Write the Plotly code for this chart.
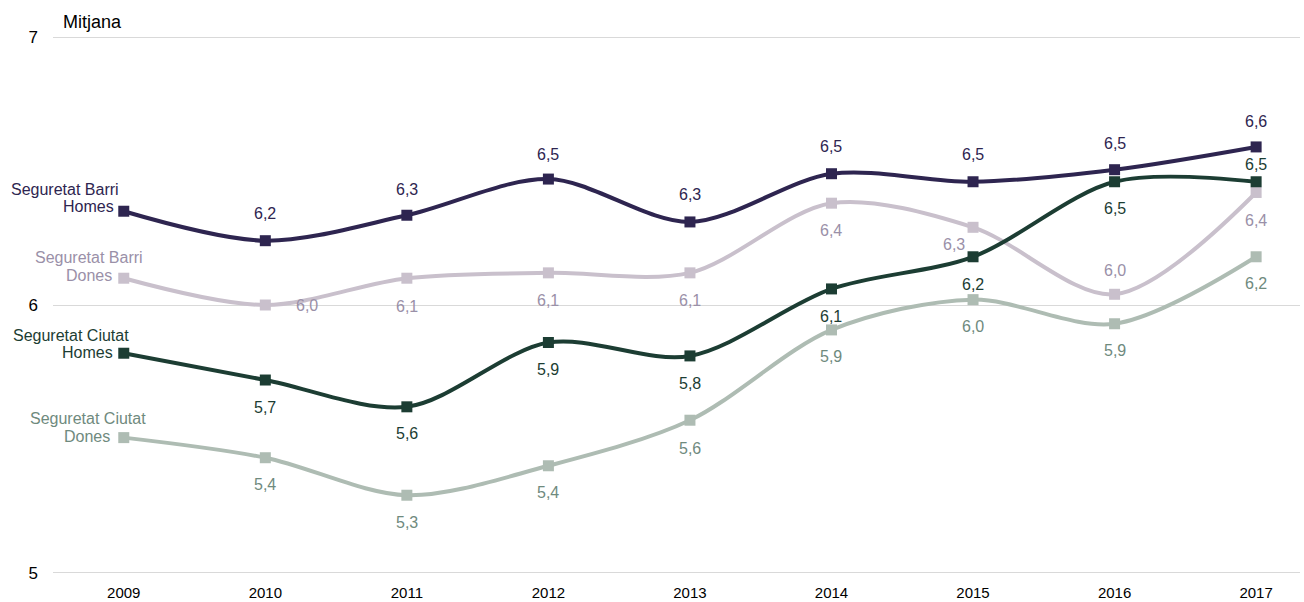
import plotly.graph_objects as go

years = [2009, 2010, 2011, 2012, 2013, 2014, 2015, 2016, 2017]

barri_homes = [6.35, 6.24, 6.335, 6.47, 6.31, 6.49, 6.46, 6.505, 6.59]
barri_dones = [6.10, 6.00, 6.10, 6.12, 6.12, 6.38, 6.29, 6.04, 6.42]
ciutat_homes = [5.82, 5.72, 5.62, 5.86, 5.81, 6.06, 6.18, 6.46, 6.46]
ciutat_dones = [5.505, 5.43, 5.29, 5.40, 5.57, 5.907, 6.02, 5.93, 6.18]

series_names = [["Seguretat Barri", "Homes"], ["Seguretat Barri", "Dones"],
                ["Seguretat Ciutat", "Homes"], ["Seguretat Ciutat", "Dones"]]
y_ticks = [5, 6, 7]

# styles
FONT = "Liberation Sans, Arial"
line_colors = ["#2e2550", "#c9c0cc", "#1c3d33", "#aebcb3"]
text_colors = ["#2e2550", "#9a90a8", "#1c3d33", "#6f8a7e"]
# label offsets (dx, dy) in pixels, per point (None = no label)
offsets = [
    [None, (0, -27), (0, -26), (0, -25), (0, -27), (0, -27), (0, -27), (0, -26), (0, -25)],
    [None, (42, 0), (0, 28), (0, 28), (0, 28), (0, 27), (-19, 17), (0, -24), (0, 28)],
    [None, (0, 27), (0, 27), (0, 27), (0, 28), (0, 28), (0, 28), (0, 27), (0, -17)],
    [None, (0, 27), (0, 27), (0, 27), (0, 28), (0, 27), (0, 27), (0, 27), (0, 27)],
]
# series-name line offsets (dx of line centre, dy of line centre) from first point
name_offsets = [
    [(-59, -22), (-35, -5)],
    [(-35, -21), (-35, -3)],
    [(-53, -18), (-36, -1)],
    [(-36, -19), (-37, -1)],
]

all_series = [barri_homes, barri_dones, ciutat_homes, ciutat_dones]

fig = go.Figure()
annotations = []
for i, vals in enumerate(all_series):
    fig.add_trace(go.Scatter(
        x=years, y=vals, mode="lines+markers",
        line=dict(color=line_colors[i], width=4, shape="spline", smoothing=0.9),
        marker=dict(symbol="square", size=11, color=line_colors[i]),
        showlegend=False, hoverinfo="skip"))
    for j, (x, v) in enumerate(zip(years, vals)):
        off = offsets[i][j]
        if off is None:
            continue
        annotations.append(dict(
            x=x, y=v, xref="x", yref="y", text=f"{v:.1f}".replace(".", ","),
            showarrow=False, xshift=off[0], yshift=-off[1],
            font=dict(family=FONT, size=16, color=text_colors[i])))
    for line, (dx, dy) in zip(series_names[i], name_offsets[i]):
        annotations.append(dict(
            x=years[0], y=vals[0], xref="x", yref="y", text=line,
            showarrow=False, xanchor="center", yanchor="middle",
            xshift=dx, yshift=-dy,
            font=dict(family=FONT, size=16, color=text_colors[i])))

# plot area target: x 53..1300, y 36..574
W, H = 1304, 602
L, T = 53, 36
plot_w = 1300 - 53
plot_h = 574 - 36

annotations.append(dict(
    x=(61 - 53) / plot_w, y=1 + (36 - 22) / plot_h, xref="paper", yref="paper",
    text="Mitjana", showarrow=False, xanchor="left", yanchor="middle",
    font=dict(family=FONT, size=18, color="#000000")))

fig.update_layout(
    width=W, height=H,
    margin=dict(l=L, r=W - L - plot_w, t=T, b=H - T - plot_h),
    paper_bgcolor="white", plot_bgcolor="white",
    annotations=annotations,
    hovermode=False,
    xaxis=dict(range=[2008.5, 2017.31], tickvals=years, ticktext=[str(y) for y in years],
               showgrid=False, zeroline=False, showline=False, automargin=False,
               tickfont=dict(family=FONT, size=15, color="#000000"),
               ticklabelstandoff=8),
    yaxis=dict(range=[4.996, 7.004], tickvals=y_ticks, ticktext=[str(t) for t in y_ticks],
               showgrid=True, gridcolor="#d9d9d9", gridwidth=1, zeroline=False,
               showline=False, automargin=False,
               tickfont=dict(family=FONT, size=17, color="#000000"),
               ticklabelstandoff=14),
)

fig.write_html("out.html", config={"displayModeBar": False},
               post_script="document.body.style.margin='0';")
